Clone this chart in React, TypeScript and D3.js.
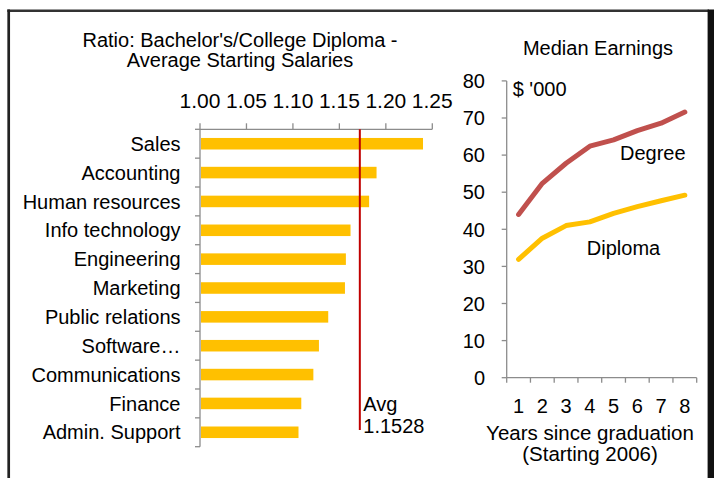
import * as d3 from 'd3';

// Ratio: bachelor's / college diploma starting salaries
const fields = ['Sales', 'Accounting', 'Human resources', 'Info technology', 'Engineering', 'Marketing',
  'Public relations', 'Software…', 'Communications', 'Finance', 'Admin. Support'];
const ratios = [1.240, 1.190, 1.182, 1.162, 1.157, 1.156, 1.138, 1.128, 1.122, 1.109, 1.106];
const ratioTicks = [1.00, 1.05, 1.10, 1.15, 1.20, 1.25];
const avgLinePos = 1.172;
const avgLabel = ['Avg', '1.1528'];

// Median earnings ($ '000)
const years = [1, 2, 3, 4, 5, 6, 7, 8];
const degree = [44, 52.4, 57.8, 62.4, 64.1, 66.6, 68.6, 71.6];
const diploma = [31.9, 37.6, 41, 42, 44.3, 46.1, 47.7, 49.2];
const earningsTicks = [0, 10, 20, 30, 40, 50, 60, 70, 80];

const FONT = '"Liberation Sans", Arial, sans-serif';
const GOLD = '#FFC000';
const RED = '#C0504D';
const AXIS = '#8C8C8C';

export default function App() {
  const W = 714, H = 478;

  // bar chart scales
  const x = d3.scaleLinear().domain([1.0, 1.25]).range([200, 432.3]);
  const y = d3.scaleBand().domain(fields).range([129.3, 446.7]).paddingInner(0.6).paddingOuter(0.3);
  const step = y.step();
  const y0 = 129.3;

  // line chart scales
  const xl = d3.scaleBand<number>().domain(years).range([506.7, 696.7]);
  const xc = (d: number) => (xl(d) as number) + xl.bandwidth() / 2;
  const yl = d3.scaleLinear().domain([0, 80]).range([377.7, 80.9]);
  const line = d3.line<number>().x((_, i) => xc(years[i])).y(d => yl(d));

  return (
    <svg width={W} height={H} style={{ position: 'absolute', left: 0, top: 0, background: '#fff' }}
      fontFamily={FONT}>
      {/* frame */}
      <line x1={7.3} x2={709} y1={10.7} y2={10.7} stroke="#333" strokeWidth={2.6} />
      <line x1={8.7} x2={8.7} y1={9.5} y2={H} stroke="#222" strokeWidth={2.7} />
      <rect x={707.6} y={9.5} width={W - 707.6} height={H} fill="#111" />

      {/* bar chart title */}
      <text x={240} y={46.5} fontSize={20} textAnchor="middle">Ratio: Bachelor's/College Diploma -</text>
      <text x={240} y={67} fontSize={20} textAnchor="middle">Average Starting Salaries</text>

      {/* top axis */}
      <line x1={x(1.0)} x2={x(1.25)} y1={y0} y2={y0} stroke={AXIS} strokeWidth={1.3} />
      {ratioTicks.map(t => (
        <g key={t}>
          <line x1={x(t)} x2={x(t)} y1={y0} y2={y0 - 6} stroke={AXIS} strokeWidth={1.3} />
          <text x={x(t)} y={108} fontSize={21} textAnchor="middle">{d3.format('.2f')(t)}</text>
        </g>
      ))}

      {/* category axis */}
      <line x1={x(1.0)} x2={x(1.0)} y1={y0} y2={y0 + step * fields.length} stroke={AXIS} strokeWidth={1.3} />
      {d3.range(fields.length + 1).map(i => (
        <line key={i} x1={x(1.0) - 5} x2={x(1.0)} y1={y0 + i * step} y2={y0 + i * step} stroke={AXIS} strokeWidth={1.3} />
      ))}
      {fields.map((f, i) => (
        <g key={f}>
          <rect x={x(1.0) + 1} y={y(f)} width={x(ratios[i]) - x(1.0) - 1} height={y.bandwidth()} fill={GOLD} />
          <text x={180.5} y={(y(f) as number) + y.bandwidth() / 2} dy="0.36em" fontSize={20} textAnchor="end">{f}</text>
        </g>
      ))}

      {/* average line */}
      <line x1={x(avgLinePos)} x2={x(avgLinePos)} y1={y0} y2={430} stroke="#C00000" strokeWidth={2} />
      <text x={x(avgLinePos) + 3.5} y={410.7} fontSize={20}>{avgLabel[0]}</text>
      <text x={x(avgLinePos) + 3.5} y={433.3} fontSize={20}>{avgLabel[1]}</text>

      {/* line chart */}
      <text x={598} y={55} fontSize={20} textAnchor="middle">Median Earnings</text>
      <text x={512.7} y={96} fontSize={20}>$ '000</text>

      <line x1={506.7} x2={506.7} y1={yl(80)} y2={yl(0)} stroke={AXIS} strokeWidth={1.3} />
      {earningsTicks.map(t => (
        <g key={t}>
          <line x1={501.7} x2={506.7} y1={yl(t)} y2={yl(t)} stroke={AXIS} strokeWidth={1.3} />
          <text x={485} y={yl(t)} dy="0.36em" fontSize={20} textAnchor="end">{t}</text>
        </g>
      ))}
      <line x1={506.7} x2={696.7} y1={yl(0)} y2={yl(0)} stroke={AXIS} strokeWidth={1.3} />
      {years.map(yr => (
        <g key={yr}>
          <line x1={(xl(yr) as number) + xl.step()} x2={(xl(yr) as number) + xl.step()} y1={yl(0)} y2={yl(0) + 5}
            stroke={AXIS} strokeWidth={1.3} />
          <text x={xc(yr)} y={412.7} fontSize={20} textAnchor="middle">{yr}</text>
        </g>
      ))}
      <line x1={506.7} x2={506.7} y1={yl(0)} y2={yl(0) + 5} stroke={AXIS} strokeWidth={1.3} />

      <path d={line(degree) || ''} fill="none" stroke={RED} strokeWidth={5} strokeLinejoin="round" strokeLinecap="round" />
      <path d={line(diploma) || ''} fill="none" stroke={GOLD} strokeWidth={5} strokeLinejoin="round" strokeLinecap="round" />
      <text x={xc(5) + 6.4} y={yl(58.7)} fontSize={20}>Degree</text>
      <text x={xc(4) - 3} y={yl(33)} fontSize={20}>Diploma</text>

      <text x={590} y={439.5} fontSize={20.5} textAnchor="middle">Years since graduation</text>
      <text x={590} y={461} fontSize={20.5} textAnchor="middle">(Starting 2006)</text>
    </svg>
  );
}
